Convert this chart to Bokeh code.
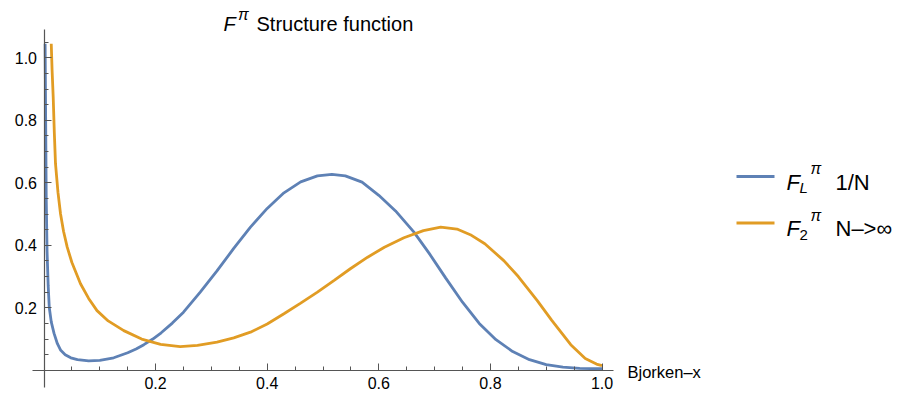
from bokeh.plotting import figure
from bokeh.models import Range1d, FixedTicker, Label, BoxAnnotation, NumeralTickFormatter
from bokeh.embed import file_html
from bokeh.resources import INLINE

# ---- data ----
fl_x = [0.002, 0.003, 0.004, 0.0055, 0.0075, 0.0095, 0.013, 0.018, 0.024, 0.030,
        0.038, 0.048, 0.060, 0.080, 0.100, 0.125, 0.150, 0.165, 0.179, 0.195,
        0.210, 0.230, 0.250, 0.280, 0.310, 0.340, 0.370, 0.400, 0.430, 0.460,
        0.490, 0.516, 0.540, 0.570, 0.600, 0.630, 0.663, 0.690, 0.720, 0.750,
        0.780, 0.810, 0.840, 0.870, 0.900, 0.930, 0.960, 1.000]
fl_y = [1.045, 0.800, 0.550, 0.380, 0.270, 0.200, 0.155, 0.118, 0.085, 0.064,
        0.050, 0.040, 0.034, 0.030, 0.032, 0.040, 0.056, 0.068, 0.082, 0.100,
        0.120, 0.151, 0.186, 0.250, 0.318, 0.390, 0.458, 0.518, 0.568, 0.603,
        0.622, 0.627, 0.622, 0.602, 0.560, 0.510, 0.442, 0.375, 0.295, 0.218,
        0.150, 0.098, 0.060, 0.034, 0.018, 0.010, 0.006, 0.005]

f2_x = [0.013, 0.0145, 0.0165, 0.0185, 0.0206, 0.025, 0.0296, 0.035, 0.0416, 0.050,
        0.0654, 0.080, 0.095, 0.115, 0.143, 0.175, 0.209, 0.244, 0.275, 0.310,
        0.340, 0.370, 0.400, 0.430, 0.460, 0.490, 0.520, 0.549, 0.580, 0.610,
        0.645, 0.680, 0.711, 0.740, 0.764, 0.790, 0.824, 0.850, 0.884, 0.910,
        0.944, 0.970, 0.990, 1.000]
f2_y = [1.045, 0.960, 0.874, 0.760, 0.661, 0.570, 0.501, 0.445, 0.394, 0.345,
        0.277, 0.230, 0.191, 0.158, 0.127, 0.100, 0.083, 0.076, 0.080, 0.090,
        0.104, 0.122, 0.148, 0.181, 0.215, 0.250, 0.288, 0.325, 0.362, 0.394,
        0.424, 0.447, 0.458, 0.452, 0.434, 0.405, 0.351, 0.300, 0.223, 0.160,
        0.082, 0.038, 0.020, 0.015]

x_major = [0.2, 0.4, 0.6, 0.8, 1.0]
y_major = [0.2, 0.4, 0.6, 0.8, 1.0]
x_minor = [0.05, 0.1, 0.15, 0.25, 0.3, 0.35, 0.45, 0.5, 0.55, 0.65, 0.7, 0.75, 0.85, 0.9, 0.95]
y_minor = [0.05, 0.1, 0.15, 0.25, 0.3, 0.35, 0.45, 0.5, 0.55, 0.65, 0.7, 0.75, 0.85, 0.9, 0.95, 1.05]

BLUE = "#5E81B5"
ORANGE = "#E19C24"
AXIS = "#555555"
FONT = "Liberation Sans"

W, H = 905, 398

# frame covers the whole canvas; axes are drawn at the origin with limited bounds
p = figure(width=W, height=H, output_backend="svg", toolbar_location=None,
           x_range=Range1d(-0.07796, 1.5439), y_range=Range1d(-0.09024, 1.18336),
           min_border_left=0, min_border_right=0, min_border_top=0, min_border_bottom=0)
p.title.visible = False
p.outline_line_color = None
p.grid.visible = False
p.background_fill_color = "white"
p.border_fill_color = "white"

p.line(fl_x, fl_y, line_color=BLUE, line_width=2.8)
p.line(f2_x, f2_y, line_color=ORANGE, line_width=2.8)

for ax, major, minor, bounds in ((p.xaxis[0], x_major, x_minor, (-0.0206, 1.02)),
                                 (p.yaxis[0], y_major, y_minor, (-0.055, 1.0906))):
    ax.fixed_location = 0
    ax.bounds = bounds
    ax.ticker = FixedTicker(ticks=major, minor_ticks=minor)
    ax.formatter = NumeralTickFormatter(format="0.0")
    ax.axis_line_color = AXIS
    ax.axis_line_width = 1.2
    ax.major_tick_line_color = AXIS
    ax.minor_tick_line_color = AXIS
    ax.major_tick_in = 7
    ax.major_tick_out = 0
    ax.minor_tick_in = 4
    ax.minor_tick_out = 0
    ax.major_label_text_font = FONT
    ax.major_label_text_font_size = "16px"
    ax.major_label_text_color = "black"
    ax.major_label_standoff = 7

# helpers: canvas (top-left origin) -> screen units (frame == canvas, y from bottom)
def sx(cx):
    return cx

def sy(cy):
    return H - cy

def txt(cx, cy, s, size, italic=False):
    p.add_layout(Label(x=sx(cx), y=sy(cy), x_units="screen", y_units="screen",
                       text=s, text_font=FONT, text_font_size=size,
                       text_font_style="italic" if italic else "normal",
                       text_color="black", text_baseline="alphabetic", text_align="left"))

# title
txt(223, 23, "F", "20px", italic=True)
txt(237.5, 14, "π", "16px", italic=True)
txt(256, 23, "Structure function", "20px")

# x axis label
txt(627, 371, "Bjorken\u2013x", "16.5px")

# legend
def legend_line(cy, color):
    p.add_layout(BoxAnnotation(left=sx(736), right=sx(774), top=sy(cy - 1.4), bottom=sy(cy + 1.4),
                               left_units="screen", right_units="screen",
                               top_units="screen", bottom_units="screen",
                               fill_color=color, fill_alpha=1.0, line_color=None))

legend_line(176, BLUE)
txt(786, 181.5, "F", "22px", italic=True)
txt(799, 187, "L", "15px", italic=True)
txt(810, 168, "π", "16px", italic=True)
txt(835, 181.5, "1/N", "22px")

legend_line(222.5, ORANGE)
txt(786, 228, "F", "22px", italic=True)
txt(799, 234, "2", "15px")
txt(810, 214.5, "π", "16px", italic=True)
txt(835, 228, "N\u2013>\u221e", "22px")

open("out.html", "w").write(file_html(p, INLINE))
